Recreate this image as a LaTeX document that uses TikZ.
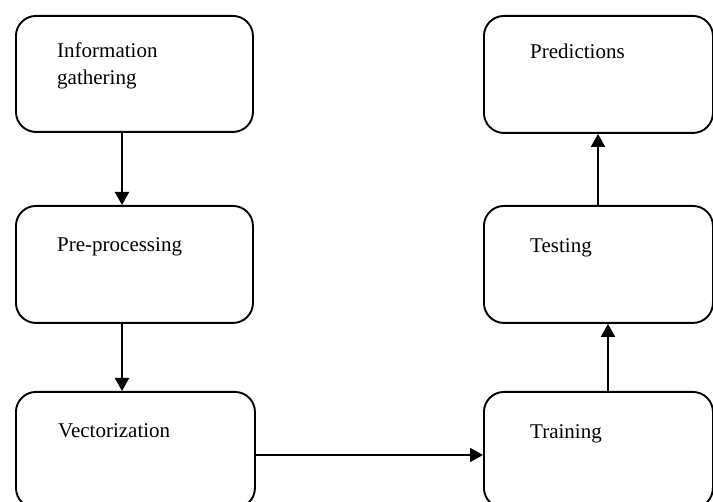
\documentclass[tikz,border=0pt]{standalone}
\usepackage{fontspec}
\setmainfont{Liberation Serif}
\usetikzlibrary{arrows.meta}
\begin{document}
\begin{tikzpicture}[x=1pt,y=-1pt,
  box/.style={draw,line width=1.9pt,rounded corners=20pt,inner sep=0pt,anchor=north west},
  lbl/.style={anchor=base west,inner sep=0pt,font=\fontsize{21}{27}\selectfont,align=left},
  arr/.style={line width=1.9pt,-{Triangle[length=13pt,width=14pt]}}]
\useasboundingbox (0,0) rectangle (713,502);
\clip (0,0) rectangle (713,502);
\node[box,minimum width=237pt,minimum height=116pt] (info) at (15,15) {};
\node[box,minimum width=237pt,minimum height=117pt] (pre) at (15,205) {};
\node[box,minimum width=239pt,minimum height=116pt] (vec) at (15,391) {};
\node[box,minimum width=229pt,minimum height=117pt] (pred) at (483,15) {};
\node[box,minimum width=229pt,minimum height=117pt] (test) at (483,205) {};
\node[box,minimum width=229pt,minimum height=116pt] (train) at (483,391) {};
\node[lbl] (infot) at (57,85) {Information\\gathering};
\node[lbl] (pret) at (57,252) {Pre-processing};
\node[lbl] (vect) at (58,438) {Vectorization};
\node[lbl] (predt) at (530,59) {Predictions};
\node[lbl] (testt) at (530,253) {Testing};
\node[lbl] (traint) at (530,439) {Training};
\coordinate (lx) at (122,0);
\coordinate (ly) at (0,455);
\coordinate (rx1) at (608,0);
\coordinate (rx2) at (598,0);
\draw[arr] (info.south -| lx) -- (pre.north -| lx);
\draw[arr] (pre.south -| lx) -- (vec.north -| lx);
\draw[arr] (vec.east |- ly) -- (train.west |- ly);
\draw[arr] (train.north -| rx1) -- (test.south -| rx1);
\draw[arr] (test.north -| rx2) -- (pred.south -| rx2);
\end{tikzpicture}
\end{document}
